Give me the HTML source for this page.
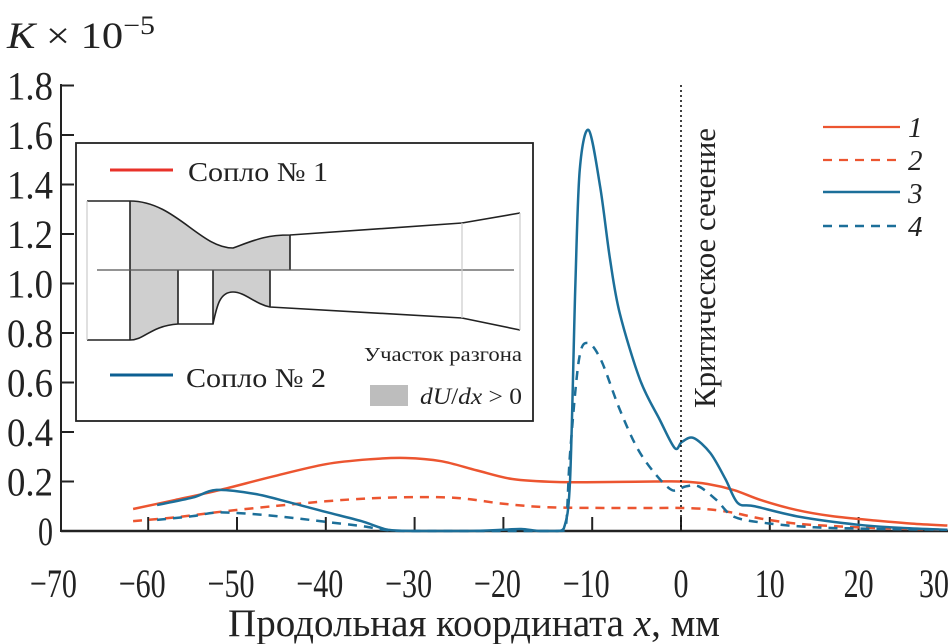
<!DOCTYPE html>
<html><head><meta charset="utf-8"><style>
body{margin:0;background:#fff}
svg{display:block;font-family:"Liberation Serif",serif}
</style></head><body>
<svg width="951" height="644" viewBox="0 0 951 644">
<g id="axes"></g>
<g id="series"></g>
<line x1="681" y1="85" x2="681" y2="531" stroke="#111" stroke-width="1.6" stroke-dasharray="2,3"/>
<text transform="translate(715,408) rotate(-90)" font-size="31" textLength="280" lengthAdjust="spacingAndGlyphs" fill="#222">Критическое сечение</text>
<text x="7" y="48" font-size="37" textLength="148" lengthAdjust="spacingAndGlyphs" fill="#222"><tspan font-style="italic">K</tspan> × 10<tspan dy="-14" font-size="26">−5</tspan></text>
<text x="228" y="636" font-size="39" textLength="492" lengthAdjust="spacingAndGlyphs" fill="#222">Продольная координата <tspan font-style="italic">x</tspan>, мм</text>
<g>
<line x1="823" y1="127" x2="900" y2="127" stroke="#ec5530" stroke-width="2.2"/>
<text x="908" y="137" font-size="29" font-style="italic" fill="#222">1</text>
<line x1="823" y1="160" x2="900" y2="160" stroke="#ec5530" stroke-width="2.2" stroke-dasharray="9,7"/>
<text x="908" y="170" font-size="29" font-style="italic" fill="#222">2</text>
<line x1="823" y1="192" x2="900" y2="192" stroke="#1c6f99" stroke-width="2.5"/>
<text x="908" y="203" font-size="29" font-style="italic" fill="#222">3</text>
<line x1="823" y1="226" x2="900" y2="226" stroke="#1c6f99" stroke-width="2.5" stroke-dasharray="9,7"/>
<text x="908" y="236" font-size="29" font-style="italic" fill="#222">4</text>
</g>
<g>
<rect x="76" y="143" width="457" height="278" fill="#fff" stroke="#222" stroke-width="1.8"/>
<line x1="110" y1="170" x2="173" y2="170" stroke="#e8322a" stroke-width="3"/>
<text x="188" y="181" font-size="27" textLength="140" lengthAdjust="spacingAndGlyphs" fill="#222">Сопло № 1</text>
<line x1="110" y1="375" x2="173" y2="375" stroke="#0c5f92" stroke-width="3"/>
<text x="186" y="387" font-size="27" textLength="140" lengthAdjust="spacingAndGlyphs" fill="#222">Сопло № 2</text>
<text x="364" y="361" font-size="20" textLength="158" lengthAdjust="spacingAndGlyphs" fill="#222">Участок разгона</text>
<rect x="370" y="385" width="38" height="21" fill="#bdbdbd"/>
<text x="420" y="404" font-size="23" textLength="102" lengthAdjust="spacingAndGlyphs" fill="#222"><tspan font-style="italic">dU</tspan>/<tspan font-style="italic">dx</tspan> &gt; 0</text>
<path d="M130,201 C175,201 200,248 233,248 C255,240 265,235 290,235 L290,270 L130,270 Z" fill="#cfcfcf"/>
<path d="M130,270 L178,270 L178,324 C150,326 145,340 130,340 Z" fill="#cfcfcf"/>
<path d="M213,270 L270,270 L270,307 C255,304 245,292 233,292 C220,292 217,305 213,324 Z" fill="#cfcfcf"/>
<g fill="none" stroke="#222" stroke-width="1.6">
<path d="M87,201 L130,201 C175,201 200,248 233,248 C255,240 265,235 290,235 L462,223 L520,213"/>
<path d="M87,340 L130,340 C145,340 150,326 178,324 L213,324 C217,305 220,292 233,292 C245,292 255,304 270,307 L462,318 L520,330"/>
<path d="M130,201V340 M290,235V270 M178,270V324 M213,270V324 M270,270V307"/>
</g>
<line x1="97" y1="270" x2="514" y2="270" stroke="#555" stroke-width="1.2"/>
<path d="M87,201V340 M462,223V318 M520,213V330" stroke="#ccc" stroke-width="1.2"/>
</g>
</svg>
<script>
const xTicks=[-70,-60,-50,-40,-30,-20,-10,0,10,20,30];
const yTicks=[0,0.2,0.4,0.6,0.8,1.0,1.2,1.4,1.6,1.8];
const yTickLabels=["0","0.2","0.4","0.6","0.8","1.0","1.2","1.4","1.6","1.8"];
const s1x=[-61.7,-57,-52,-46,-40,-35,-31,-27,-23,-19,-14,-8,-3,0,3,6,9,13,17,22,26,30];
const s1y=[0.089,0.125,0.165,0.22,0.27,0.29,0.295,0.282,0.245,0.21,0.198,0.198,0.2,0.2,0.19,0.165,0.125,0.085,0.06,0.042,0.03,0.022];
const s2x=[-61.7,-57,-52,-46,-40,-35,-30,-25,-20,-15,-8,-3,0,3,6,9,13,17,22,26,30];
const s2y=[0.04,0.055,0.077,0.1,0.12,0.132,0.137,0.133,0.11,0.096,0.093,0.093,0.093,0.088,0.073,0.05,0.03,0.02,0.012,0.008,0.005];
const s3x=[-59,-55,-52.3,-48,-44,-40,-36,-33,-30,-24,-20,-18,-16,-14,-13.2,-12.5,-11.9,-11.4,-10.4,-9.1,-8,-6.9,-4.6,-2.4,-0.7,0.1,1.4,3.3,5,6.4,8.3,13.4,20,25,30];
const s3y=[0.105,0.135,0.166,0.15,0.115,0.077,0.04,0.005,0,0,0.005,0.008,0,0,0.01,0.2,0.99,1.46,1.62,1.39,1.10,0.88,0.61,0.45,0.335,0.36,0.376,0.315,0.21,0.113,0.1,0.057,0.025,0.012,0.005];
const s4x=[-59,-55,-52,-47,-43,-40,-36,-33,-30,-20,-14,-13,-12.5,-11.5,-10.5,-9,-7,-5,-3,-1,0.5,2,4,6,10,15,20,25,30];
const s4y=[0.045,0.06,0.075,0.065,0.05,0.037,0.02,0.003,0,0,0,0.01,0.31,0.69,0.76,0.69,0.5,0.34,0.235,0.165,0.18,0.18,0.125,0.057,0.03,0.015,0.01,0.007,0.005];
function X(v){return 681+v*8.88;}
function Y(v){return 531-v*247.5;}
const NS="http://www.w3.org/2000/svg";
const axes=document.getElementById('axes');
function mk(tag,attrs,parent){const e=document.createElementNS(NS,tag);for(const k in attrs)e.setAttribute(k,attrs[k]);parent.appendChild(e);return e;}
let e=mk('line',{x1:61,y1:531,x2:948,y2:531,stroke:'#222','stroke-width':2.5},axes);


e=mk('line',{x1:61,y1:84,x2:61,y2:532,stroke:'#222','stroke-width':2},axes);


xTicks.forEach(v=>{
  if(v>-70&&v<30){const t=mk('line',{x1:X(v),y1:531,x2:X(v),y2:517,stroke:'#222','stroke-width':2},axes);
  
  }
  const txt=(v<0?'−':'')+Math.abs(v);
  const w=v<0?47:(v===0?15:30);
  const cx=X(v)-(v<0?6:0);
  const l=mk('text',{x:Math.min(cx-w/2,949-w),y:597,'font-size':40,textLength:w,lengthAdjust:'spacingAndGlyphs',fill:'#222'},axes);
  l.textContent=txt;
  
  
});
yTicks.forEach((v,i)=>{
  if(v>0){const t=mk('line',{x1:61,y1:Y(v),x2:74,y2:Y(v),stroke:'#222','stroke-width':2},axes);
  
  }
  const w=yTickLabels[i].length>1?46:15;
  const l=mk('text',{x:53-w,y:Y(v)+14,'font-size':40,textLength:w,lengthAdjust:'spacingAndGlyphs',fill:'#222'},axes);
  l.textContent=yTickLabels[i];
  
  
});
function pathFor(xs,ys){
  const p=xs.map((x,i)=>[X(x),Y(ys[i])]);
  let d='M'+p[0][0]+','+p[0][1];
  for(let i=0;i<p.length-1;i++){
    const p0=p[i-1]||p[i],p1=p[i],p2=p[i+1],p3=p[i+2]||p2;
    const t=0.16;
    let c1y=p1[1]+(p2[1]-p0[1])*t,c2y=p2[1]-(p3[1]-p1[1])*t;
    const lo=Math.min(p1[1],p2[1]);
    c1y=Math.max(Math.min(c1y,531),lo-40);c2y=Math.max(Math.min(c2y,531),lo-40);
    d+=' C'+(p1[0]+(p2[0]-p0[0])*t)+','+c1y+' '+(p2[0]-(p3[0]-p1[0])*t)+','+c2y+' '+p2[0]+','+p2[1];
  }
  return d;
}
const ser=document.getElementById('series');
const defs=[[s1x,s1y,'#ec5530',null,'series-1-line'],[s2x,s2y,'#ec5530','9,7','series-2-line'],[s3x,s3y,'#1c6f99',null,'series-3-line'],[s4x,s4y,'#1c6f99','9,7','series-4-line']];
defs.forEach(d=>{
  const a={d:pathFor(d[0],d[1]),fill:'none',stroke:d[2],'stroke-width':2.5};
  if(d[3])a['stroke-dasharray']=d[3];
  const p=mk('path',a,ser);
  
  
});
</script>
</body></html>
